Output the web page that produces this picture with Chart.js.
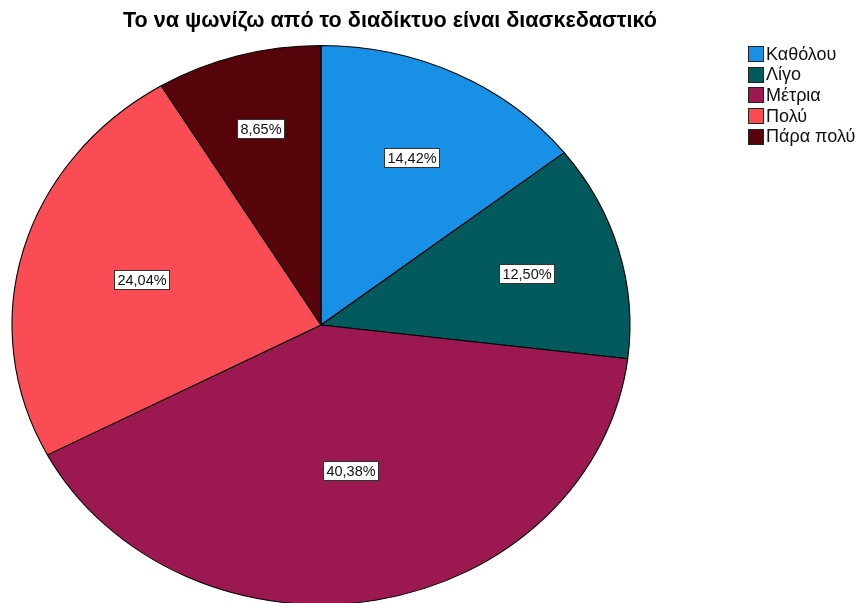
<!DOCTYPE html>
<html>
<head>
<meta charset="utf-8">
<script src="https://cdn.jsdelivr.net/npm/chart.js@4.4.0/dist/chart.umd.min.js"></script>
<style>
  body { margin: 0; background: #fff; font-family: "Liberation Sans", Arial, sans-serif; }
  #wrap { position: relative; width: 862px; height: 603px; overflow: hidden; }
  #title { position: absolute; left: 0; top: 7px; width: 780px; text-align: center;
           font-weight: bold; font-size: 21.6px; color: #000; white-space: nowrap; }
  #legend { position: absolute; left: 748px; top: 44px; font-size: 18px; color: #111; white-space: nowrap; }
  .item { height: 20.6px; display: flex; align-items: center; }
  .sw { width: 14px; height: 14px; border: 1px solid #222; margin-right: 2px; box-sizing: content-box; }
  canvas { position: absolute; left: 0; top: 0; }
</style>
</head>
<body>
<div id="wrap">
  <canvas id="pie" width="862" height="610"></canvas>
  <div id="title">Το να ψωνίζω από το διαδίκτυο είναι διασκεδαστικό</div>
  <div id="legend"></div>
</div>
<script>
const categories = ['Καθόλου', 'Λίγο', 'Μέτρια', 'Πολύ', 'Πάρα πολύ'];
const shares = [14.42, 12.50, 40.38, 24.04, 8.65];
const colors = ['#1790e6', '#025a5c', '#9c1850', '#fa4c54', '#56040a'];

// the pie is drawn a bit wider than tall
const STRETCH_X = 1.1055;
// how far out along each slice the percentage box sits
const labelRadius = [0.667, 0.69, 0.528, 0.603, 0.729];

const stretchPlugin = {
  id: 'stretch',
  beforeDatasetsDraw(chart) {
    const arc = chart.getDatasetMeta(0).data[0];
    const ctx = chart.ctx;
    ctx.save();
    ctx.translate(arc.x, arc.y);
    ctx.scale(STRETCH_X, 1);
    ctx.translate(-arc.x, -arc.y);
  },
  afterDatasetsDraw(chart) {
    chart.ctx.restore();
  }
};

const labelPlugin = {
  id: 'sliceLabels',
  afterDatasetsDraw(chart) {
    const ctx = chart.ctx;
    const meta = chart.getDatasetMeta(0);
    ctx.save();
    ctx.font = '14.5px "Liberation Sans", Arial, sans-serif';
    ctx.textAlign = 'center';
    ctx.textBaseline = 'middle';
    meta.data.forEach((arc, i) => {
      const p = arc.getProps(['x', 'y', 'startAngle', 'endAngle', 'outerRadius'], true);
      const mid = (p.startAngle + p.endAngle) / 2;
      const r = p.outerRadius * labelRadius[i];
      const x = p.x + Math.cos(mid) * r * STRETCH_X;
      const y = p.y + Math.sin(mid) * r;
      const text = shares[i].toFixed(2).replace('.', ',') + '%';
      const w = Math.round(ctx.measureText(text).width + 6);
      const h = 19;
      const bx = Math.round(x - w / 2) + 0.5;
      const by = Math.round(y - h / 2) + 0.5;
      ctx.fillStyle = '#fff';
      ctx.fillRect(bx, by, w, h);
      ctx.strokeStyle = '#333';
      ctx.lineWidth = 1;
      ctx.strokeRect(bx, by, w, h);
      ctx.fillStyle = '#111';
      ctx.fillText(text, bx + w / 2, by + h / 2 + 1);
    });
    ctx.restore();
  }
};

new Chart(document.getElementById('pie'), {
  type: 'pie',
  data: {
    labels: categories,
    datasets: [{
      data: shares,
      backgroundColor: colors,
      borderColor: '#000',
      borderWidth: 1
    }]
  },
  options: {
    responsive: false,
    animation: false,
    events: [],
    layout: { padding: { left: 0, right: 220, top: 45, bottom: 5 } },
    plugins: {
      legend: { display: false },
      tooltip: { enabled: false }
    }
  },
  plugins: [stretchPlugin, labelPlugin]
});

const legend = document.getElementById('legend');
categories.forEach((name, i) => {
  const row = document.createElement('div');
  row.className = 'item';
  row.innerHTML = '<span class="sw" style="background:' + colors[i] + '"></span>' + name;
  legend.appendChild(row);
});
</script>
</body>
</html>
